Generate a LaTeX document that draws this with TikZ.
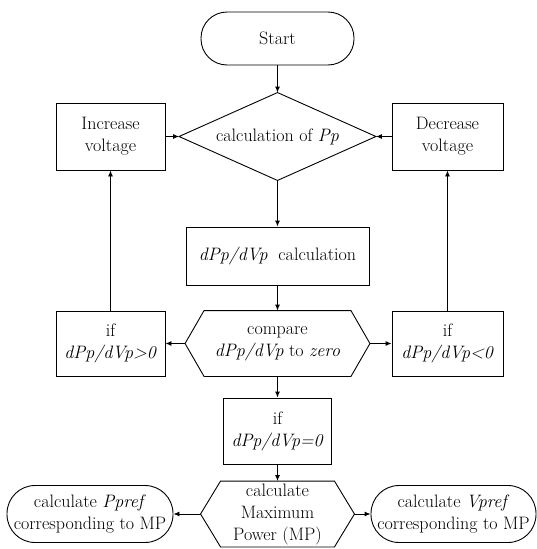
\documentclass[tikz,border=0pt]{standalone}
\usepackage{fontspec}
\usetikzlibrary{arrows.meta,calc}
\begin{document}
\begin{tikzpicture}[x=1pt,y=-1pt,
  line width=0.9pt,
  every node/.style={align=center,inner sep=0pt,font=\fontsize{18}{22}\selectfont},
  box/.style={draw,rectangle,minimum width=#1},
  capsule/.style={draw,rectangle,rounded corners=27pt,minimum height=55pt},
  ghost/.style={draw=none,rectangle},
  arr/.style={-{Latex[length=6pt,width=5pt]}}
]
\useasboundingbox (0,0) rectangle (537,549);
% nodes
\node[capsule,minimum width=153pt,minimum height=53pt,rounded corners=26pt] (start) at (277.5,38.5) {Start};
\node[ghost,minimum width=196pt,minimum height=87pt] (pp) at (277.5,136.5) {calculation of \textit{Pp}};
\node[box=109pt,minimum height=67pt] (inc) at (110.5,136.5) {Increase\\voltage};
\node[box=111pt,minimum height=67pt] (dec) at (447.5,136.5) {Decrease\\voltage};
\node[box=183pt,minimum height=58pt] (calc) at (277.5,256) {\textit{dPp/dVp}\ \ calculation};
\node[ghost,minimum width=184pt,minimum height=65pt] (cmp) at (277.5,343.5) {compare\\\textit{dPp/dVp} to \textit{zero}};
\node[box=109pt,minimum height=65pt] (gt) at (110.5,343.5) {if\\\textit{dPp/dVp>0}};
\node[box=111pt,minimum height=65pt] (lt) at (447.5,343.5) {if\\\textit{dPp/dVp<0}};
\node[box=108pt,minimum height=66pt] (eq) at (277.5,431) {if\\\textit{dPp/dVp=0}};
\node[ghost,minimum width=153pt,minimum height=65pt] (mp) at (277.5,514) {calculate\\Maximum\\Power (MP)};
\node[capsule,minimum width=166pt,minimum height=57pt,rounded corners=28pt] (pref) at (90,514) {calculate \textit{Ppref}\\corresponding to MP};
\node[capsule,minimum width=165pt,minimum height=57pt,rounded corners=28pt] (vref) at (453.5,514) {calculate \textit{Vpref}\\corresponding to MP};
% shapes drawn from ghost nodes
\draw (pp.west) -- (pp.north) -- (pp.east) -- (pp.south) -- cycle;
\draw (cmp.west) -- ($(cmp.north west)+(19,0)$) -- ($(cmp.north east)+(-19,0)$) -- (cmp.east)
      -- ($(cmp.south east)+(-19,0)$) -- ($(cmp.south west)+(19,0)$) -- cycle;
\draw (mp.west) -- ($(mp.north west)+(20,0)$) -- ($(mp.north east)+(-20,0)$) -- (mp.east)
      -- ($(mp.south east)+(-20,0)$) -- ($(mp.south west)+(20,0)$) -- cycle;
% connectors
\draw[arr] (start) -- (pp.north);
\draw[arr] (inc.east) -- (pp.west);
\draw[arr] (dec.west) -- (pp.east);
\draw[arr] (pp.south) -- (calc.north);
\draw[arr] (calc.south) -- (cmp.north);
\draw[arr] (cmp.west) -- (gt.east);
\draw[arr] (cmp.east) -- (lt.west);
\draw[arr] (gt.north) -- (inc.south);
\draw[arr] (lt.north) -- (dec.south);
\draw[arr] (cmp.south) -- (eq.north);
\draw[arr] (eq.south) -- (mp.north);
\draw[arr] (mp.west) -- (pref.east);
\draw[arr] (mp.east) -- (vref.west);
\end{tikzpicture}
\end{document}
